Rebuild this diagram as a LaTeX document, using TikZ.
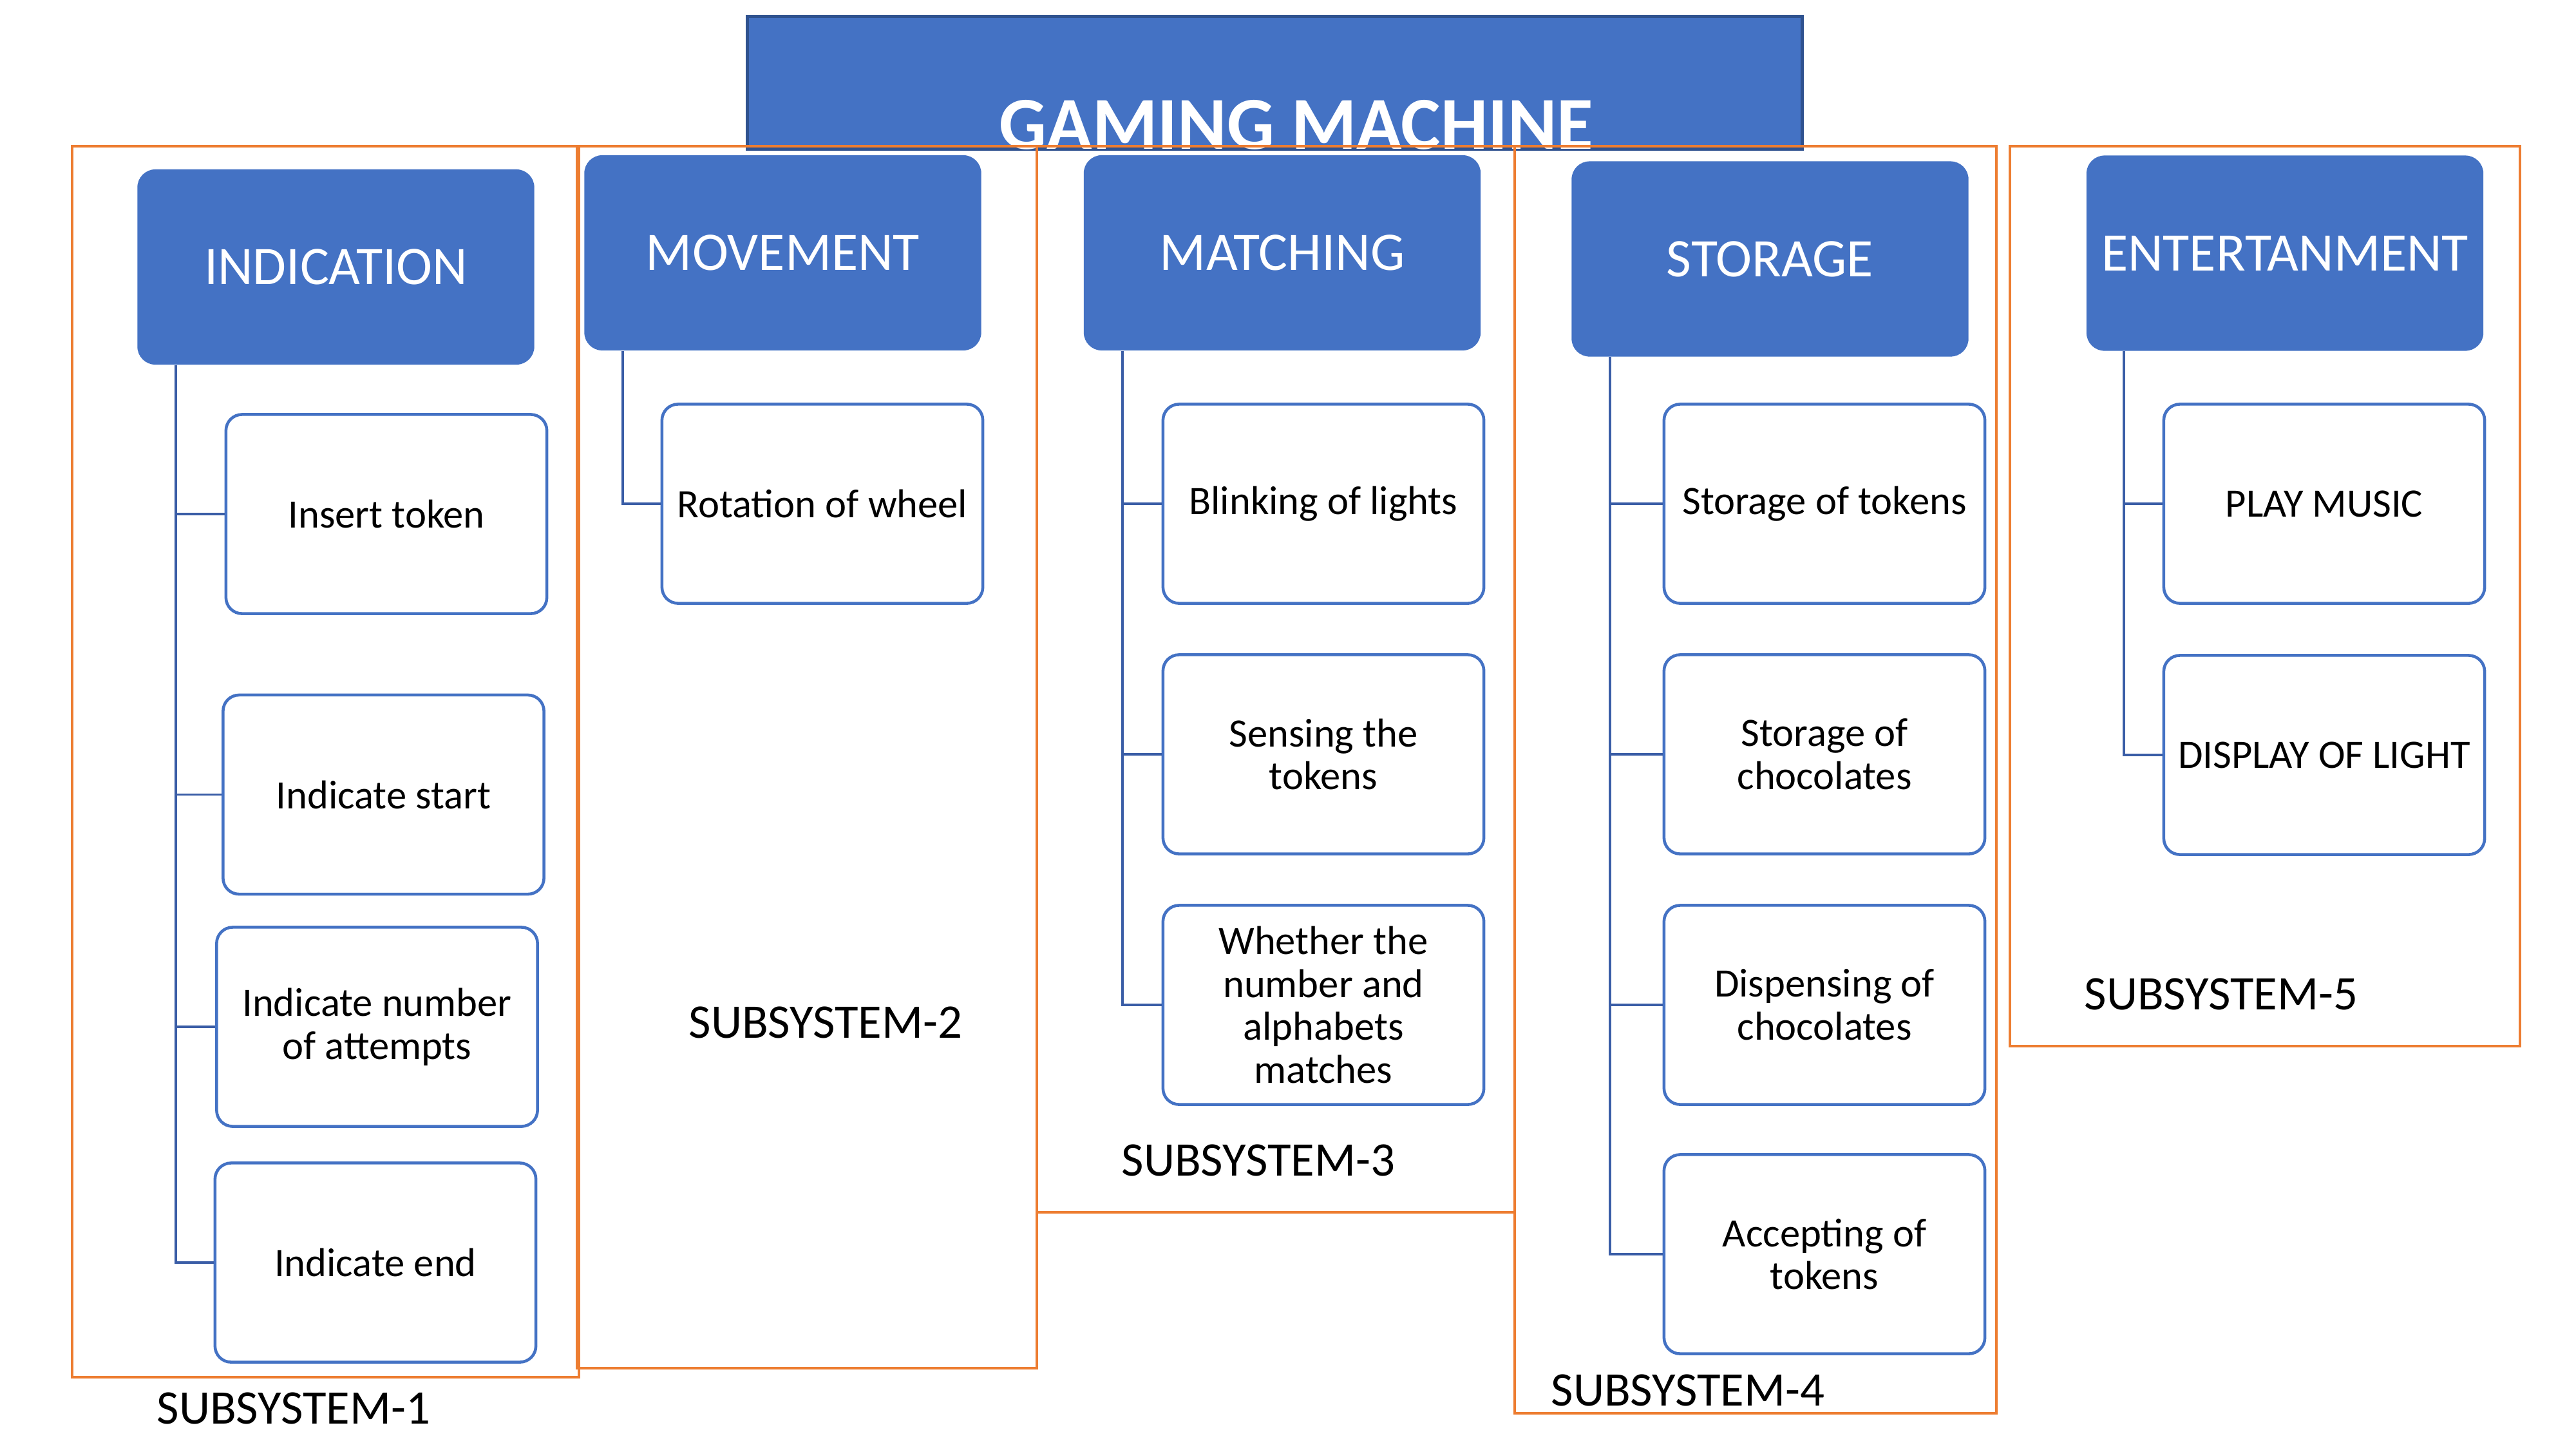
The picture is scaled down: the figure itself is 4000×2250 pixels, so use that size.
\documentclass[tikz,border=0pt]{standalone}
\usepackage{fontspec}
\setmainfont{Carlito}
\usetikzlibrary{calc}
\definecolor{hblue}{HTML}{4472C4}
\definecolor{dblue}{HTML}{2F528F}
\definecolor{cblue}{HTML}{3A5DA6}
\definecolor{org}{HTML}{ED7D31}
\begin{document}
\begin{tikzpicture}[x=0.01cm,y=-0.01cm,
 hdr/.style={rectangle, rounded corners=0.28cm, fill=hblue, text=white, minimum width=6.16cm, minimum height=3.03cm, inner sep=0pt, font=\fontsize{24}{28}\selectfont},
 child/.style={rectangle, rounded corners=0.25cm, draw=hblue, line width=1.3pt, fill=white, minimum width=4.98cm, minimum height=3.09cm, inner sep=0pt, align=center, font=\fontsize{17.8}{19}\selectfont},
 conn/.style={draw=cblue, line width=1.1pt},
 subframe/.style={draw=org, line width=1pt},
 sub/.style={font=\fontsize{21.3}{24}\selectfont, inner sep=0pt}]
\useasboundingbox[fill=white] (0,0) rectangle (4000,2250);

% title
\node[draw=dblue, line width=1.4pt, fill=hblue, minimum width=16.37cm, minimum height=2.05cm, inner sep=0pt] (title) at (1979.5,128.5) {};
\node[text=white, inner sep=0pt, font=\bfseries\fontsize{33}{36}\selectfont] (titletext) at (2013,194) {GAMING MACHINE};

% subsystem frames
\draw[subframe] (112,227) rectangle (899,2138);
\draw[subframe] (896,227) rectangle (1610,2124);
\draw[subframe] (1610,227) rectangle (2352,1882);
\draw[subframe] (2352,227) rectangle (3100,2194);
\draw[subframe] (3121,227) rectangle (3913,1624);

% headers
\node[hdr] (hind) at (521.5,414.5) {INDICATION};
\node[hdr] (hmov) at (1215.5,392.5) {MOVEMENT};
\node[hdr] (hmat) at (1991,392.5) {MATCHING};
\node[hdr] (hsto) at (2748.5,402) {STORAGE};
\node[hdr] (hent) at (3548,393) {ENTERTANMENT};

% children
\node[child] (c11) at (600,798) {Insert token};
\node[child] (c12) at (595.5,1233.5) {Indicate start};
\node[child] (c13) at (585.5,1594) {Indicate number\\of attempts};
\node[child] (c14) at (583,1960) {Indicate end};

\node[child] (c21) at (1277,782) {Rotation of wheel};

\node[child] (c31) at (2055,782) {Blinking of lights};
\node[child] (c32) at (2055,1171) {Sensing the\\tokens};
\node[child] (c33) at (2055,1560) {Whether the\\number and\\alphabets\\matches};

\node[child] (c41) at (2833,782) {Storage of tokens};
\node[child] (c42) at (2833,1171) {Storage of\\chocolates};
\node[child] (c43) at (2833,1560) {Dispensing of\\chocolates};
\node[child] (c44) at (2833,1947) {Accepting of\\tokens};

\node[child] (c51) at (3609,782) {PLAY MUSIC};
\node[child] (c52) at (3609,1172) {DISPLAY OF LIGHT};

% connectors
\foreach \c in {c11,c12,c13,c14}
  \draw[conn] ($(hind.south west)+(60,0)$) |- (\c.west);
\draw[conn] ($(hmov.south west)+(60,0)$) |- (c21.west);
\foreach \c in {c31,c32,c33}
  \draw[conn] ($(hmat.south west)+(61,0)$) |- (\c.west);
\foreach \c in {c41,c42,c43,c44}
  \draw[conn] ($(hsto.south west)+(60,0)$) |- (\c.west);
\foreach \c in {c51,c52}
  \draw[conn] ($(hent.south west)+(59,0)$) |- (\c.west);

% labels
\node[sub] (s1) at (456,2186) {SUBSYSTEM-1};
\node[sub] (s2) at (1282,1587) {SUBSYSTEM-2};
\node[sub] (s3) at (1954,1801) {SUBSYSTEM-3};
\node[sub] (s4) at (2621,2158) {SUBSYSTEM-4};
\node[sub] (s5) at (3449,1543) {SUBSYSTEM-5};
\end{tikzpicture}
\end{document}
